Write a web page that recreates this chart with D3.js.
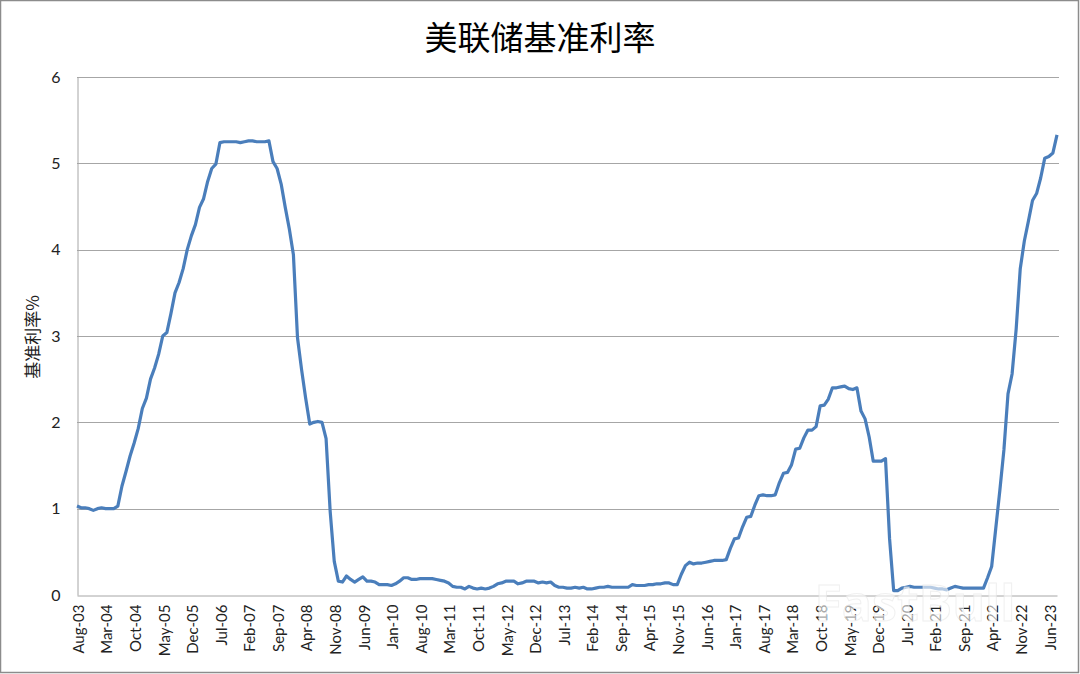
<!DOCTYPE html>
<html>
<head>
<meta charset="utf-8">
<script src="https://cdn.jsdelivr.net/npm/d3@7"></script>
<style>
  body { margin: 0; background: #fff; }
  svg { display: block; }
</style>
</head>
<body>
<svg id="chart" width="1080" height="674"></svg>
<script>
// monthly effective fed funds rate, Aug-03 .. Aug-23
var startMonth = "2003-08";
var rates = [
  1.03, 1.01, 1.01, 1.00, 0.98,
  1.00, 1.01, 1.00, 1.00, 1.00, 1.03, 1.26, 1.43, 1.61, 1.76, 1.93, 2.16,
  2.28, 2.50, 2.63, 2.79, 3.00, 3.04, 3.26, 3.50, 3.62, 3.78, 4.00, 4.16,
  4.29, 4.49, 4.59, 4.79, 4.94, 4.99, 5.24, 5.25, 5.25, 5.25, 5.25, 5.24,
  5.25, 5.26, 5.26, 5.25, 5.25, 5.25, 5.26, 5.02, 4.94, 4.76, 4.49, 4.24,
  3.94, 2.98, 2.61, 2.28, 1.98, 2.00, 2.01, 2.00, 1.81, 0.97, 0.39, 0.16,
  0.15, 0.22, 0.18, 0.15, 0.18, 0.21, 0.16, 0.16, 0.15, 0.12, 0.12, 0.12,
  0.11, 0.13, 0.16, 0.20, 0.20, 0.18, 0.18, 0.19, 0.19, 0.19, 0.19, 0.18,
  0.17, 0.16, 0.14, 0.10, 0.09, 0.09, 0.07, 0.10, 0.08, 0.07, 0.08, 0.07,
  0.08, 0.10, 0.13, 0.14, 0.16, 0.16, 0.16, 0.13, 0.14, 0.16, 0.16, 0.16,
  0.14, 0.15, 0.14, 0.15, 0.11, 0.09, 0.09, 0.08, 0.08, 0.09, 0.08, 0.09,
  0.07, 0.07, 0.08, 0.09, 0.09, 0.10, 0.09, 0.09, 0.09, 0.09, 0.09, 0.12,
  0.11, 0.11, 0.11, 0.12, 0.12, 0.13, 0.13, 0.14, 0.14, 0.12, 0.12, 0.24,
  0.34, 0.38, 0.36, 0.37, 0.37, 0.38, 0.39, 0.40, 0.40, 0.40, 0.41, 0.54,
  0.65, 0.66, 0.79, 0.90, 0.91, 1.04, 1.15, 1.16, 1.15, 1.15, 1.16, 1.30,
  1.41, 1.42, 1.51, 1.69, 1.70, 1.82, 1.91, 1.91, 1.95, 2.19, 2.20, 2.27,
  2.40, 2.40, 2.41, 2.42, 2.39, 2.38, 2.40, 2.13, 2.04, 1.83, 1.55, 1.55,
  1.55, 1.58, 0.65, 0.05, 0.05, 0.08, 0.09, 0.10, 0.09, 0.09, 0.09, 0.09,
  0.09, 0.08, 0.07, 0.07, 0.06, 0.08, 0.10, 0.09, 0.08, 0.08, 0.08, 0.08,
  0.08, 0.08, 0.20, 0.33, 0.77, 1.21, 1.68, 2.33, 2.56, 3.08, 3.78, 4.10,
  4.33, 4.57, 4.65, 4.83, 5.06, 5.08, 5.12, 5.33
];
var yTicks = [0, 1, 2, 3, 4, 5, 6];
var labelEvery = 7;
var title = "美联储基准利率";
var yTitle = "基准利率%";

var svg = d3.select("#chart");
var W = 1080, H = 674;
var margin = {left: 77, top: 77, right: 21, bottom: 79};

var parseMonth = d3.timeParse("%Y-%m");
var fmt = d3.timeFormat("%b-%y");
var t0 = parseMonth(startMonth);
var data = rates.map(function(v, i) {
  return { date: d3.timeMonth.offset(t0, i), value: v, i: i };
});

var x = d3.scaleLinear()
    .domain([0, rates.length - 1])
    .range([margin.left, W - margin.right - 2]);

var y = d3.scaleLinear()
    .domain([0, 6])
    .range([H - margin.bottom, margin.top]);

// outer frame
svg.append("rect")
    .attr("x", 0.5).attr("y", 0.5)
    .attr("width", W - 2).attr("height", H - 2)
    .attr("fill", "#fff")
    .attr("stroke", "#8c8c8c")
    .attr("stroke-width", 1.5);

// title
svg.append("text")
    .attr("x", 540).attr("y", 50)
    .attr("text-anchor", "middle")
    .attr("font-family", "'Noto Sans CJK SC', sans-serif")
    .attr("font-size", 33)
    .attr("fill", "#000")
    .text(title);

// gridlines
svg.append("g")
  .selectAll("line")
  .data(yTicks.filter(function(d) { return d > 0; }))
  .enter().append("line")
    .attr("x1", margin.left).attr("x2", W - margin.right)
    .attr("y1", function(d) { return Math.round(y(d)) + 0.5; })
    .attr("y2", function(d) { return Math.round(y(d)) + 0.5; })
    .attr("stroke", "#a6a6a6")
    .attr("stroke-width", 1);

// y axis
var yAxis = svg.append("g")
    .attr("transform", "translate(" + (margin.left + 0.5) + ",0)")
    .call(d3.axisLeft(y).tickValues(yTicks).tickFormat(d3.format("d"))
      .tickSize(0).tickPadding(17));
yAxis.select(".domain").attr("stroke", "#a6a6a6");
yAxis.selectAll("text")
    .attr("font-family", "Lato, 'Liberation Sans', sans-serif")
    .attr("font-size", 16)
    .attr("fill", "#222");

// x axis
var xAxis = svg.append("g")
    .attr("transform", "translate(0," + (Math.round(y(0)) + 0.5) + ")")
    .call(d3.axisBottom(x)
      .tickValues(d3.range(0, rates.length, labelEvery))
      .tickSize(0)
      .tickFormat(function(i) { return fmt(data[i].date); }));
xAxis.select(".domain").attr("stroke", "#a6a6a6");
xAxis.selectAll("text")
    .attr("font-family", "Lato, 'Liberation Sans', sans-serif")
    .attr("font-size", 15)
    .attr("fill", "#222")
    .attr("text-anchor", "end")
    .attr("transform", "rotate(-90)")
    .attr("x", -9)
    .attr("y", 1)
    .attr("dy", "0.35em");

// y axis title
svg.append("text")
    .attr("transform", "translate(39,337) rotate(-90)")
    .attr("text-anchor", "middle")
    .attr("font-family", "'Noto Sans CJK SC', sans-serif")
    .attr("font-size", 17)
    .attr("fill", "#222")
    .text(yTitle);

// line
var line = d3.line()
    .x(function(d) { return x(d.i); })
    .y(function(d) { return y(d.value); });

svg.append("path")
    .datum(data)
    .attr("fill", "none")
    .attr("stroke", "#4a7ebb")
    .attr("stroke-width", 3.2)
    .attr("stroke-linejoin", "round")
    .attr("d", line);

// watermark
svg.append("text")
    .attr("x", 915).attr("y", 621)
    .attr("text-anchor", "middle")
    .attr("font-family", "'Open Sans', sans-serif")
    .attr("font-weight", "bold")
    .attr("font-size", 50)
    .attr("fill", "#fff")
    .attr("fill-opacity", 0.6)
    .attr("stroke", "#e6e6e6")
    .attr("stroke-opacity", 0.6)
    .attr("stroke-width", 1)
    .text("FastBull");
</script>
</body>
</html>
